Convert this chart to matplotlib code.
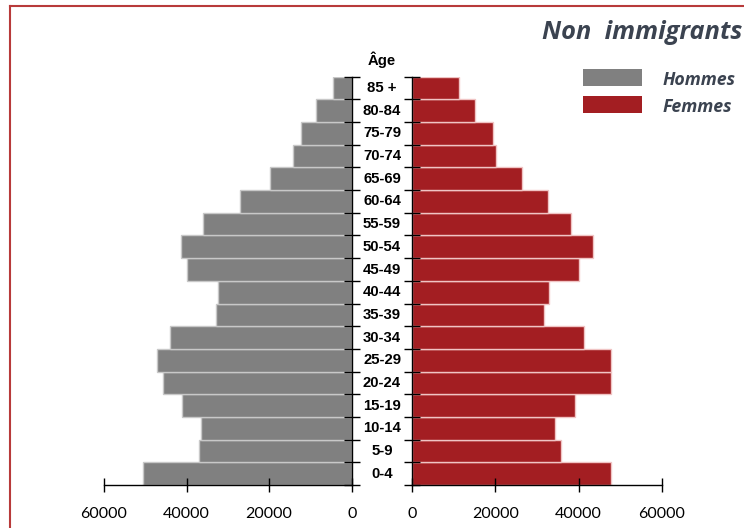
import matplotlib
matplotlib.use("Agg")
import matplotlib.pyplot as plt
from matplotlib.transforms import blended_transform_factory
from matplotlib.lines import Line2D
from matplotlib.patches import Rectangle

ages = ["0-4", "5-9", "10-14", "15-19", "20-24", "25-29", "30-34", "35-39", "40-44",
        "45-49", "50-54", "55-59", "60-64", "65-69", "70-74", "75-79", "80-84", "85 +"]
hommes = [50500, 36900, 36600, 41000, 45800, 47100, 44000, 32900, 32500,
          40000, 41400, 35900, 27000, 19900, 14100, 12400, 8700, 4600]
femmes = [47900, 35700, 34300, 39100, 47900, 47900, 41400, 31700, 33000,
          40100, 43500, 38100, 32600, 26300, 20200, 19500, 15100, 11300]
xticks = [0, 20000, 40000, 60000]
title = "Non  immigrants"
legend_labels = ["Hommes", "Femmes"]

W, H = 744, 528
fig = plt.figure(figsize=(W / 100, H / 100), dpi=100)

gray = "#808080"
red = "#a31e22"
text_dark = "#3b4350"
tick_font = "Lato"
head_font = "Open Sans"

def px_axes(x0, x1, ytop, ybot):
    return fig.add_axes([x0 / W, 1 - ybot / H, (x1 - x0) / W, (ybot - ytop) / H])

axL = px_axes(104, 351.7, 76.7, 485)
axR = px_axes(412.3, 661.7, 76.7, 485)

ypos = list(range(len(ages)))
axL.barh(ypos, hommes, height=1.0, color=gray, edgecolor="#c8c8c8", linewidth=1.0)
axR.barh(ypos, femmes, height=1.0, color=red, edgecolor="#f0c4c4", linewidth=1.0)

bounds = [i - 0.5 for i in range(len(ages) + 1)]
for ax in (axL, axR):
    ax.set_ylim(-0.5, len(ages) - 0.5)
    ax.set_xlim(0, 60000)
    ax.set_xticks(xticks)
    ax.set_xticklabels([str(v) for v in xticks], fontsize=11.5, family=tick_font)
    ax.set_yticks(bounds)
    ax.set_yticklabels([])
    ax.spines["top"].set_visible(False)
    ax.tick_params(axis="x", direction="inout", length=10, width=1, pad=11, colors="black")
    ax.tick_params(axis="y", direction="inout", length=12, width=1)
    ax.patch.set_visible(False)
    for s in ax.spines.values():
        s.set_linewidth(1.0)

axL.invert_xaxis()
axL.spines["left"].set_visible(False)
axL.yaxis.tick_right()
axL.spines["right"].set_visible(True)
axR.spines["right"].set_visible(False)

tr = blended_transform_factory(fig.transFigure, axL.transData)
for i, a in enumerate(ages):
    fig.text(382 / W, i, a, transform=tr, ha="center", va="center",
             fontsize=10.7, fontweight="bold", family="Liberation Sans")
fig.text(382 / W, 1 - 60 / H, "Âge", ha="center", va="center",
         fontsize=10.7, fontweight="bold", family="Liberation Sans")

fig.text(742 / W, 1 - 39.3 / H, title, ha="right", va="baseline", fontsize=18.3,
         fontweight="bold", fontstyle="italic", color=text_dark, family=head_font)

for k, (lab, col) in enumerate(zip(legend_labels, [gray, red])):
    yc = 77.3 + 27 * k
    fig.patches.append(Rectangle((583 / W, 1 - (yc + 8.4) / H), 59 / W, 16.8 / H,
                                 transform=fig.transFigure, facecolor=col, edgecolor="none"))
    fig.text(663 / W, 1 - (85 + 26.7 * k) / H, lab, ha="left", va="baseline", fontsize=12.8,
             fontweight="bold", fontstyle="italic", color=text_dark, family=head_font)

border = "#b83a3a"
fig.add_artist(Line2D([9.5 / W, 1.0], [1 - 5.5 / H, 1 - 5.5 / H], transform=fig.transFigure,
                      color=border, linewidth=1.5))
fig.add_artist(Line2D([9.5 / W, 9.5 / W], [0, 1 - 5.5 / H], transform=fig.transFigure,
                      color=border, linewidth=1.5))

fig.savefig("out.png", dpi=100)
